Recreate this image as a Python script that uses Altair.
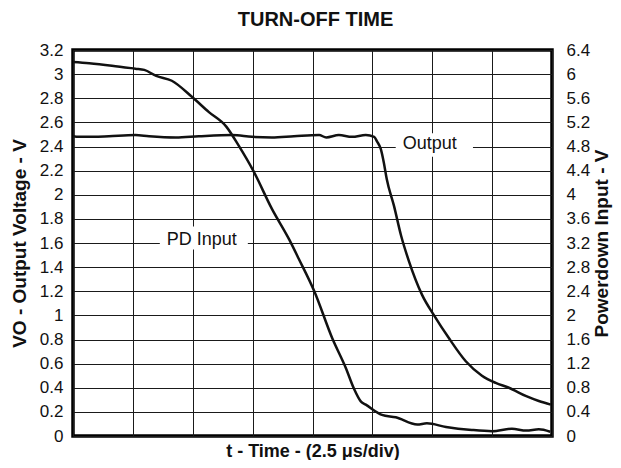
import altair as alt
import pandas as pd

FONT = "Liberation Sans"

# Output (left axis, V) vs time in divisions
out_t = [0, 0.10, 0.35, 0.60, 1.04, 1.27, 1.72, 2.10, 2.66, 2.99, 3.32, 3.69, 4.11, 4.23,
         4.44, 4.66, 4.89, 5.03, 5.08, 5.14, 5.19, 5.24, 5.36, 5.48, 5.61, 5.83, 6.03,
         6.28, 6.56, 6.83, 7.06, 7.28, 7.57, 7.78, 7.98]
out_v = [2.485, 2.48, 2.48, 2.485, 2.495, 2.485, 2.475, 2.485, 2.495, 2.48, 2.475, 2.485, 2.495, 2.475,
         2.495, 2.48, 2.495, 2.48, 2.44, 2.38, 2.27, 2.13, 1.91, 1.66, 1.45, 1.17, 1.00,
         0.81, 0.62, 0.50, 0.44, 0.40, 0.33, 0.29, 0.26]

# PD input (right axis, V)
pd_t = [0, 0.27, 0.65, 1.04, 1.19, 1.39, 1.65, 1.99, 2.27, 2.56, 2.77, 3.01, 3.32, 3.61,
        3.77, 4.03, 4.33, 4.56, 4.69, 4.81, 4.89, 5.16, 5.39, 5.75, 5.91, 6.23, 6.66,
        7.00, 7.33, 7.57, 7.78, 7.97]
pd_v = [6.20, 6.18, 6.14, 6.09, 6.07, 5.97, 5.89, 5.62, 5.37, 5.13, 4.81, 4.40, 3.77, 3.26,
        2.94, 2.40, 1.62, 1.12, 0.79, 0.57, 0.52, 0.35, 0.31, 0.19, 0.21, 0.15, 0.10,
        0.08, 0.12, 0.09, 0.11, 0.07]

grid_t = [0, 1, 2, 3, 4, 5, 6, 7, 8]
left_ticks = [round(0.2 * i, 1) for i in range(17)]
right_ticks = [round(0.4 * i, 1) for i in range(17)]

label_text = ["PD Input", "Output"]
label_t = [2.15, 5.96]
label_v = [1.6, 2.4]

gap_t1 = [1.45, 5.39]
gap_t2 = [2.92, 6.68]
gap_v1 = [1.546, 2.315]
gap_v2 = [1.736, 2.51]

df_out = pd.DataFrame({"t": out_t, "v": out_v})
df_pd = pd.DataFrame({"t": pd_t, "pv": pd_v})
df_lab = pd.DataFrame({"t": label_t, "v": label_v, "label": label_text})
df_gap = pd.DataFrame({"t": gap_t1, "t2": gap_t2, "v": gap_v1, "v2": gap_v2})

xscale = alt.Scale(domain=[0, 8], nice=False, zero=False)
yL = alt.Scale(domain=[0, 3.2], nice=False, zero=True)
yR = alt.Scale(domain=[0, 6.4], nice=False, zero=True)

x_axis = alt.Axis(
    values=grid_t, grid=True, labels=False, ticks=False, domain=False,
    title="t - Time - (2.5 \u03bcs/div)", titleFontSize=18, titleFontWeight="bold",
    titlePadding=6, gridColor="#1a1a1a", gridWidth=1, gridOpacity=1)

left_axis = alt.Axis(values=left_ticks, grid=True, ticks=False, domain=False, format="~g",
                     labelFontSize=17, labelPadding=10, title="VO - Output Voltage - V",
                     titleFontSize=19, titleFontWeight="bold", titlePadding=10,
                     gridColor="#1a1a1a", gridWidth=1, gridOpacity=1)

masks = alt.Chart(df_gap).mark_rect(color="white").encode(
    x=alt.X("t:Q", scale=xscale, axis=x_axis), x2="t2:Q",
    y=alt.Y("v:Q", scale=yL, axis=left_axis), y2="v2:Q")

output_line = alt.Chart(df_out).mark_line(color="#111111", strokeWidth=2.5, interpolate="monotone").encode(
    x=alt.X("t:Q", scale=xscale, axis=x_axis),
    y=alt.Y("v:Q", scale=yL, axis=left_axis))

labels = alt.Chart(df_lab).mark_text(fontSize=18, font=FONT, color="#111111", dy=-3,
                                     baseline="middle", align="center").encode(
    x=alt.X("t:Q", scale=xscale, axis=x_axis),
    y=alt.Y("v:Q", scale=yL, axis=left_axis), text="label:N")

left = alt.layer(masks, output_line, labels)

pd_line = alt.Chart(df_pd).mark_line(color="#111111", strokeWidth=2.5, interpolate="monotone").encode(
    x=alt.X("t:Q", scale=xscale, axis=x_axis),
    y=alt.Y("pv:Q", scale=yR, axis=alt.Axis(
        orient="right", values=right_ticks, grid=False, ticks=False, domain=False, format="~g",
        labelFontSize=17, labelPadding=14, title="Powerdown Input - V", titleFontSize=19,
        titleFontWeight="bold", titlePadding=3, titleAngle=270, titleBaseline="top")))

chart = alt.layer(left, pd_line).resolve_scale(y="independent").properties(
    width=479, height=386,
    autosize=alt.AutoSizeParams(type="none"),
    padding={"left": 65, "top": 42, "right": 61, "bottom": 24},
    title=alt.TitleParams("TURN-OFF TIME", fontSize=20, fontWeight="bold", font=FONT,
                          offset=0, baseline="bottom", anchor="middle", dx=3, dy=9,
                          color="#111111"),
).configure_view(stroke="black", strokeWidth=3.5).configure_axis(
    labelFont=FONT, titleFont=FONT, labelColor="#111111", titleColor="#111111")

chart.save("out.html", embed_options={"renderer": "svg", "actions": False})
